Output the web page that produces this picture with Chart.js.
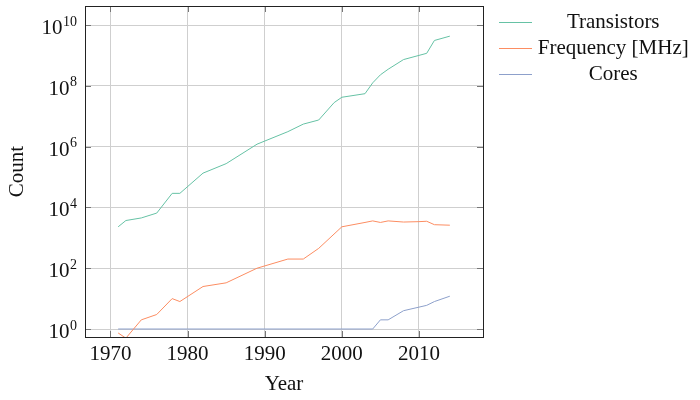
<!DOCTYPE html>
<html><head><meta charset="utf-8">
<script src="https://cdn.jsdelivr.net/npm/chart.js@4/dist/chart.umd.min.js"></script>
<style>html,body{margin:0;padding:0;background:#fff}#wrap{width:700px;height:400px}</style>
</head><body><div id="wrap"><canvas id="c" width="700" height="400"></canvas></div>
<script>
const transistorYears  = [1971,1972,1974,1976,1978,1979,1982,1985,1989,1993,1995,1997,1999,2000,2003,2004,2005,2006,2008,2010,2011,2012,2014];
const transistorCounts = [2300,3700,4500,6500,29000,29000,134000,275000,1.2e6,3.1e6,5.5e6,7.5e6,2.8e7,4.2e7,5.5e7,1.25e8,2.3e8,3.5e8,7.3e8,1.0e9,1.17e9,3.1e9,4.3e9];
const frequencyYears   = [1971,1972,1974,1976,1978,1979,1982,1985,1989,1993,1995,1997,2000,2003,2004,2005,2006,2008,2010,2011,2012,2014];
const frequencyMHz     = [0.74,0.5,2,3,10,8,25,33,100,200,200,450,2300,3200,3600,3200,3600,3300,3400,3500,2700,2600];
const coreYears        = [1971,2004,2005,2006,2008,2011,2012,2014];
const coreCounts       = [1,1,2,2,4,6,8,12];
const xTickValues      = [1970,1980,1990,2000,2010];
const yTickExponents   = [0,2,4,6,8,10];
const seriesLabels     = ['Transistors','Frequency [MHz]','Cores'];
const seriesColors     = ['#66c2a5','#fc8d62','#8da0cb'];

const FONT = "'Liberation Serif', 'DejaVu Serif', serif";
const FS = 21;
const pts = (xs, ys) => xs.map((x, i) => ({x: x, y: ys[i]}));

const frame = {
  id: 'frame',
  beforeLayout(chart) {
    const lg = chart.legend;
    if (lg && !lg._patched) {
      const f = lg.fit.bind(lg);
      lg.fit = function () { f(); this.width = 217; };
      lg.draw = function () { if (this.options.display) this._draw(); };
      lg._patched = true;
    }
  },
  afterLayout(chart) {
    const lg = chart.legend;
    lg.left = chart.chartArea.right + 11;
    lg.right = 684;
    lg.top = 7;
  },
  afterDatasetsDraw(chart) {
    const {ctx, chartArea: a, scales} = chart;
    ctx.save();
    ctx.strokeStyle = '#777';
    ctx.lineWidth = 1;
    const L = 6;
    ctx.beginPath();
    scales.x.ticks.forEach(t => {
      const px = Math.round(scales.x.getPixelForValue(t.value)) + 0.5;
      ctx.moveTo(px, a.bottom); ctx.lineTo(px, a.bottom - L);
      ctx.moveTo(px, a.top); ctx.lineTo(px, a.top + L);
    });
    scales.y.ticks.forEach(t => {
      const py = Math.round(scales.y.getPixelForValue(t.value)) + 0.5;
      ctx.moveTo(a.left, py); ctx.lineTo(a.left + L, py);
      ctx.moveTo(a.right, py); ctx.lineTo(a.right - L, py);
    });
    ctx.stroke();
    ctx.strokeStyle = '#222';
    ctx.strokeRect(Math.round(a.left) + 0.5, Math.round(a.top) + 0.5, Math.round(a.right - a.left), Math.round(a.bottom - a.top));
    // y tick labels: 10 with raised exponent
    ctx.fillStyle = '#111';
    ctx.textBaseline = 'alphabetic';
    scales.y.ticks.forEach(t => {
      const py = scales.y.getPixelForValue(t.value);
      const exp = String(Math.round(Math.log10(t.value)));
      const right = a.left - 8;
      ctx.font = '14px ' + FONT;
      ctx.textAlign = 'right';
      ctx.fillText(exp, right, py + 0.5);
      const ew = ctx.measureText(exp).width;
      ctx.font = FS + 'px ' + FONT;
      ctx.fillText('10', right - ew - 0.5, py + 9);
    });
    ctx.restore();
  }
};

new Chart(document.getElementById('c'), {
  type: 'line',
  data: {
    datasets: [
      {label: seriesLabels[0], data: pts(transistorYears, transistorCounts)},
      {label: seriesLabels[1], data: pts(frequencyYears, frequencyMHz)},
      {label: seriesLabels[2], data: pts(coreYears, coreCounts)}
    ].map((d, i) => Object.assign(d, {
      borderColor: seriesColors[i], backgroundColor: seriesColors[i],
      borderWidth: 1, pointRadius: 0, tension: 0, fill: false
    }))
  },
  plugins: [frame],
  options: {
    responsive: false,
    animation: false,
    layout: {padding: {top: 6, right: 0, bottom: 0, left: 0}},
    plugins: {
      legend: {
        position: 'right', align: 'start',
        labels: {
          usePointStyle: true, pointStyle: 'line', pointStyleWidth: 33,
          padding: 5, textAlign: 'center', color: '#111',
          font: {family: FONT, size: FS}
        }
      },
      tooltip: {enabled: false}
    },
    scales: {
      x: {
        type: 'linear', min: 1966.7, max: 2018.3,
        afterBuildTicks: s => { s.ticks = xTickValues.map(v => ({value: v})); },
        afterFit: s => { s.height = 63; s.paddingLeft = 0; s.paddingRight = 0; },
        ticks: {padding: 5, color: '#111', font: {family: FONT, size: FS}, callback: v => String(v)},
        grid: {color: '#cfcfcf', drawTicks: false},
        border: {display: false},
        title: {display: true, text: 'Year', color: '#111', font: {family: FONT, size: FS}, padding: {top: 0, bottom: 3}}
      },
      y: {
        type: 'logarithmic', min: 0.5458, max: 4.217e10,
        afterBuildTicks: s => { s.ticks = yTickExponents.map(e => ({value: Math.pow(10, e)})); },
        afterFit: s => { s.width = 85; s.paddingTop = 0; s.paddingBottom = 0; },
        ticks: {
          display: false,
          callback: v => '10^' + Math.round(Math.log10(v))
        },
        grid: {color: '#cfcfcf', drawTicks: false},
        border: {display: false},
        title: {display: true, text: 'Count', color: '#111', font: {family: FONT, size: FS}, padding: {top: 5, bottom: 0}}
      }
    }
  }
});
</script>
</body></html>
